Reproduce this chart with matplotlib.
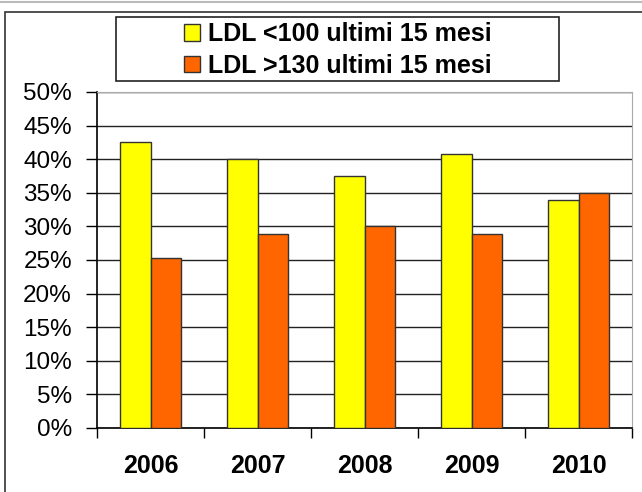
import matplotlib.pyplot as plt
import numpy as np
from matplotlib.patches import Rectangle
from matplotlib.lines import Line2D

years = ["2006", "2007", "2008", "2009", "2010"]
ldl_under_100 = [42.5, 40.0, 37.5, 40.8, 34.0]
ldl_over_130 = [25.3, 28.9, 30.0, 28.9, 34.9]
labels = ["LDL <100 ultimi 15 mesi", "LDL >130 ultimi 15 mesi"]
yticks = list(range(0, 51, 5))

plt.rcParams['font.family'] = ['Liberation Sans', 'DejaVu Sans']

W, H = 642, 492
fig = plt.figure(figsize=(W / 100, H / 100), dpi=100)
ax = fig.add_axes([97 / W, 64 / H, 535 / W, 336 / H])

x = np.arange(len(years))
w = 1 / 3.5
b1 = ax.bar(x - w / 2, ldl_under_100, w, color='#FFFF00', edgecolor='#333333', linewidth=1, zorder=3)
b2 = ax.bar(x + w / 2, ldl_over_130, w, color='#FF6600', edgecolor='#333333', linewidth=1, zorder=3)

ax.set_xlim(-0.5, len(years) - 0.5)
ax.set_ylim(0, 50)
ax.set_yticks(yticks)
ax.set_yticklabels([f"{v}%" for v in yticks], fontsize=17.5)
ax.yaxis.grid(True, color='#222222', linewidth=1, zorder=0)
ax.set_axisbelow(True)

# category labels centred, tick marks on the boundaries
ax.set_xticks(x)
ax.set_xticklabels(years, fontsize=18, fontweight='bold')
ax.tick_params(axis='x', length=0, pad=19)
ax.set_xticks(np.arange(-0.5, len(years)), minor=True)
ax.tick_params(axis='x', which='minor', length=7, width=1, direction='out', color='black')
ax.tick_params(axis='y', length=8, width=1, direction='out', pad=10)

for side in ['top', 'right']:
    ax.spines[side].set_color('#aaaaaa')
ax.spines['left'].set_linewidth(1.2)
ax.spines['bottom'].set_linewidth(1.2)

# legend box drawn separately so it can be wider than its text
box_l, box_r, box_t, box_b = 116, 559, 17, 81
leg = fig.legend([b1, b2], labels, loc='center',
                 bbox_to_anchor=((box_l + box_r) / 2 / W, 1 - (box_t + box_b + 2) / 2 / H),
                 frameon=False, prop={'size': 18, 'weight': 'bold'},
                 handlelength=0.65, handleheight=0.65, handletextpad=0.3,
                 borderpad=0, labelspacing=0.3, borderaxespad=0)
fig.add_artist(Rectangle((box_l / W, 1 - box_b / H), (box_r - box_l) / W, (box_b - box_t) / H,
                         transform=fig.transFigure, fill=False,
                         edgecolor='#222222', linewidth=1.2))

# outer chart frame and the thin line above it
fig.add_artist(Rectangle((5 / W, -0.05), 1.0, 1 - 12 / H + 0.05,
                         transform=fig.transFigure, fill=False,
                         edgecolor='#333333', linewidth=1.2))
fig.add_artist(Line2D([0, 1], [1 - 1.5 / H] * 2, transform=fig.transFigure,
                      color='#bbbbbb', linewidth=1.5))

fig.savefig('out.png', dpi=100)
